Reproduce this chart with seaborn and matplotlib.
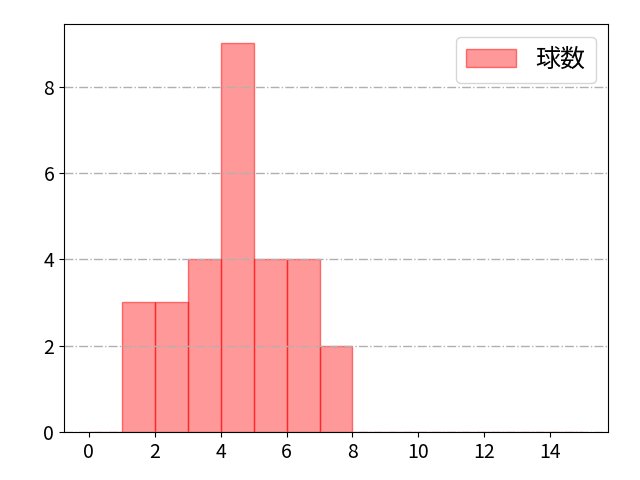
import matplotlib
matplotlib.use('Agg')
import matplotlib.pyplot as plt
import seaborn as sns

# bin left edges and counts
bin_starts = [1, 2, 3, 4, 5, 6, 7]
counts = [3, 3, 4, 9, 4, 4, 2]
bin_edges = list(range(0, 16))
label = '球数'

plt.rcParams['font.family'] = ['Noto Sans CJK JP', 'DejaVu Sans']

fig, ax = plt.subplots(figsize=(6.4, 4.8), dpi=100)
sns.histplot(x=bin_starts, weights=counts, bins=bin_edges, ax=ax,
             color='red', alpha=0.4, edgecolor=(1, 0, 0, 0.5), linewidth=1,
             label=label)

ax.set_xlim(-0.75, 15.75)
ax.set_ylim(0, 9.45)
ax.set_xticks(range(0, 15, 2))
ax.set_yticks([0, 2, 4, 6, 8])
ax.set_xlabel('')
ax.set_ylabel('')
ax.tick_params(labelsize=14)
ax.grid(axis='y', linestyle='-.', color='#b0b0b0', linewidth=1)
ax.legend(loc='upper right', fontsize=18)

fig.subplots_adjust(left=0.1, right=0.95, bottom=0.1, top=0.95)
plt.savefig('out.png')
